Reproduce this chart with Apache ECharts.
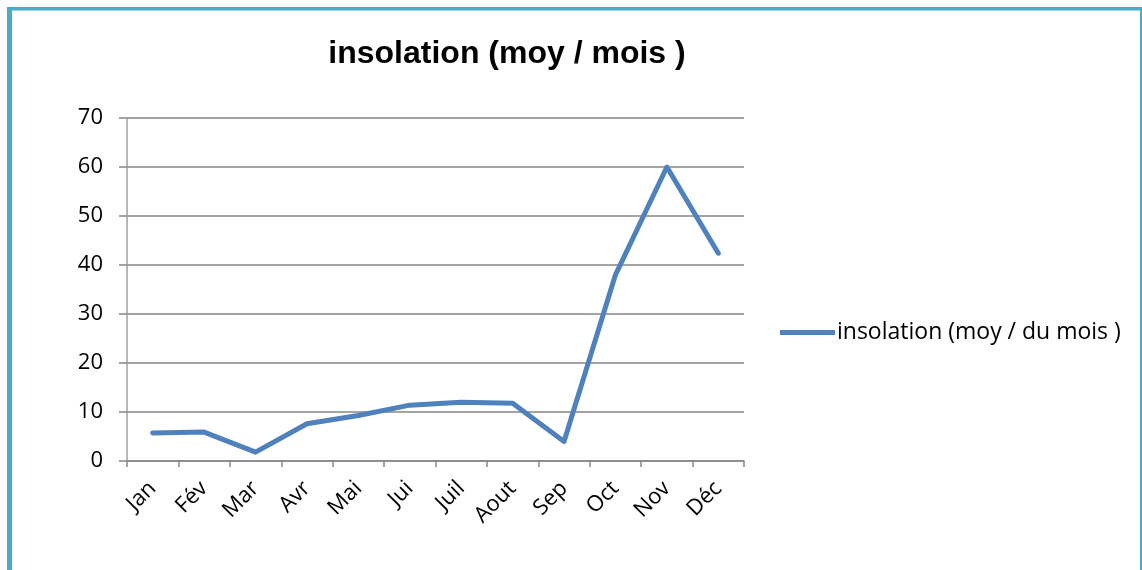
<!DOCTYPE html>
<html><head><meta charset="utf-8">
<script src="https://cdn.jsdelivr.net/npm/echarts@6/dist/echarts.min.js"></script>
<style>
html,body{margin:0;padding:0;background:#fff;}
#c{position:absolute;left:0;top:0;width:1142px;height:570px;}
</style></head>
<body>
<div id="c"></div>
<script>
const months = ['Jan','Fév','Mar','Avr','Mai','Jui','Juil','Aout','Sep','Oct','Nov','Déc'];
const insolation = [5.7, 5.9, 1.8, 7.6, 9.3, 11.4, 12.0, 11.8, 4.0, 38.0, 60.0, 42.4];
const seriesName = 'insolation (moy / du mois )';
const titleText = 'insolation (moy / mois )';

const chart = echarts.init(document.getElementById('c'));
chart.setOption({
  animation: false,
  backgroundColor: '#fff',
  graphic: [
    {type:'rect', shape:{x:7,y:7,width:1134,height:3}, style:{fill:'#4BACC6'}},
    {type:'rect', shape:{x:7,y:10,width:1134,height:1}, style:{fill:'#9fd3e0'}},
    {type:'rect', shape:{x:7,y:7,width:5,height:563}, style:{fill:'#4BACC6'}},
    {type:'rect', shape:{x:1140,y:7,width:2,height:563}, style:{fill:'#4BACC6'}}
  ],
  title: {
    text: titleText,
    left: 502, top: 33, textAlign: 'center',
    textStyle: {fontFamily:'Liberation Sans, Arial', fontWeight:'bold', fontSize:32, color:'#000'}
  },
  legend: {
    data: [seriesName],
    left: 775, top: 316,
    itemWidth: 55, itemHeight: 5, itemGap: 4,
    icon: 'rect',
    textStyle: {fontFamily:'Open Sans, Liberation Sans', fontSize:23, color:'#000', padding:[0,0,0,-3]}
  },
  grid: {left:127, top:118, right:398, bottom:109, containLabel:false},
  xAxis: {
    type: 'category',
    data: months,
    boundaryGap: true,
    axisLine: {show:true, lineStyle:{color:'#868686', width:1.5}},
    axisTick: {show:true, length:6, inside:false, lineStyle:{color:'#868686', width:1.5}},
    axisLabel: {rotate:45, fontFamily:'Open Sans, Liberation Sans', fontSize:22, color:'#000', margin:24},
    splitLine: {show:false}
  },
  yAxis: {
    type: 'value',
    min: 0, max: 70, interval: 10,
    axisLine: {show:true, lineStyle:{color:'#a0a0a0', width:1.5}},
    axisTick: {show:true, length:8, lineStyle:{color:'#868686', width:1.5}},
    axisLabel: {fontFamily:'Open Sans, Liberation Sans', fontSize:22, color:'#000', margin:24},
    splitLine: {show:true, lineStyle:{color:'#868686', width:1.5}}
  },
  series: [{
    name: seriesName,
    type: 'line',
    data: insolation,
    symbol: 'none',
    lineStyle: {color:'#4F81BD', width:5, cap:'round', join:'round'},
    itemStyle: {color:'#4F81BD'}
  }]
});
</script>
</body></html>
